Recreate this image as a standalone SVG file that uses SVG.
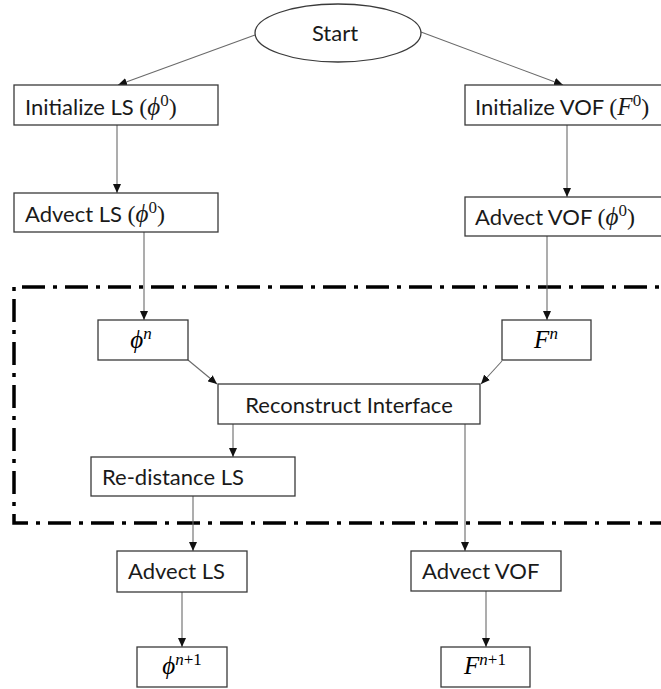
<svg xmlns="http://www.w3.org/2000/svg" width="661" height="689" viewBox="0 0 661 689">
<style>
.box{fill:#fff;stroke:#3a3a3a;stroke-width:1.3}
.t{font-family:Lato,"Open Sans","Liberation Sans",sans-serif;font-size:22px;fill:#1a1a1a}
.m{font-family:"Liberation Serif","DejaVu Serif",serif;font-size:24px}
.mi{font-family:"Liberation Serif","DejaVu Serif",serif;font-style:italic;font-size:25px}
.sup{font-family:"Liberation Serif","DejaVu Serif",serif;font-size:17px}
.supi{font-family:"Liberation Serif","DejaVu Serif",serif;font-style:italic;font-size:17px}
.c{fill:none;stroke:#6a6a6a;stroke-width:1.1;marker-end:url(#ah)}
.dd{fill:none;stroke:#000;stroke-width:3.5;stroke-dasharray:23 8 4 8}
</style>
<defs>
<marker id="ah" markerUnits="userSpaceOnUse" markerWidth="9" markerHeight="8" refX="9" refY="4" orient="auto">
<path d="M0,0 L9,4 L0,8 z" fill="#111"/>
</marker>
</defs>
<rect width="661" height="689" fill="#fff"/>

<path class="dd" d="M690,287 L14,287 L14,523 L690,523"/>

<g id="connectors">
<line class="c" x1="255" y1="35" x2="118" y2="85"/>
<line class="c" x1="421" y1="32" x2="563" y2="85"/>
<line class="c" x1="117" y1="125" x2="117" y2="193"/>
<line class="c" x1="567" y1="125" x2="567" y2="197"/>
<line class="c" x1="144" y1="232" x2="144" y2="320"/>
<line class="c" x1="547" y1="236" x2="547" y2="320"/>
<line class="c" x1="188" y1="360" x2="217" y2="384"/>
<line class="c" x1="502" y1="361" x2="481" y2="384"/>
<line class="c" x1="233" y1="424" x2="233" y2="457"/>
<line class="c" x1="465" y1="424" x2="465" y2="551"/>
<line class="c" x1="193" y1="496" x2="193" y2="551"/>
<line class="c" x1="182" y1="592" x2="182" y2="647"/>
<line class="c" x1="486" y1="591" x2="486" y2="647"/>
</g>

<g id="start">
<ellipse class="box" cx="338" cy="33" rx="83" ry="29"/>
<text class="t" x="335" y="41" text-anchor="middle">Start</text>
</g>

<g id="init-ls">
<rect class="box" x="14" y="85" width="204" height="40"/>
<text class="t" x="25" y="115">Initialize LS <tspan class="m">(</tspan><tspan class="mi">ϕ</tspan><tspan class="sup" dy="-9">0</tspan><tspan class="m" dy="9">)</tspan></text>
</g>

<g id="init-vof">
<rect class="box" x="465" y="85" width="200" height="40"/>
<text class="t" x="475" y="115">Initialize VOF <tspan class="m">(</tspan><tspan class="mi">F</tspan><tspan class="sup" dy="-9">0</tspan><tspan class="m" dy="9">)</tspan></text>
</g>

<g id="advect-ls-0">
<rect class="box" x="14" y="193" width="204" height="39"/>
<text class="t" x="25" y="222">Advect LS <tspan class="m">(</tspan><tspan class="mi">ϕ</tspan><tspan class="sup" dy="-9">0</tspan><tspan class="m" dy="9">)</tspan></text>
</g>

<g id="advect-vof-0">
<rect class="box" x="465" y="197" width="200" height="39"/>
<text class="t" x="475" y="225">Advect VOF <tspan class="m">(</tspan><tspan class="mi">ϕ</tspan><tspan class="sup" dy="-9">0</tspan><tspan class="m" dy="9">)</tspan></text>
</g>

<g id="phi-n">
<rect class="box" x="98" y="320" width="90" height="40"/>
<text x="141" y="348" text-anchor="middle"><tspan class="mi">ϕ</tspan><tspan class="supi" dy="-9">n</tspan></text>
</g>

<g id="f-n">
<rect class="box" x="502" y="320" width="89" height="40"/>
<text x="546" y="348" text-anchor="middle"><tspan class="mi">F</tspan><tspan class="supi" dy="-9">n</tspan></text>
</g>

<g id="reconstruct">
<rect class="box" x="218" y="384" width="262" height="40"/>
<text class="t" x="349" y="413" text-anchor="middle">Reconstruct Interface</text>
</g>

<g id="redistance">
<rect class="box" x="91" y="457" width="204" height="39"/>
<text class="t" x="102" y="485">Re-distance LS</text>
</g>

<g id="advect-ls">
<rect class="box" x="117" y="551" width="130" height="41"/>
<text class="t" x="128" y="579">Advect LS</text>
</g>

<g id="advect-vof">
<rect class="box" x="411" y="551" width="150" height="40"/>
<text class="t" x="422" y="579">Advect VOF</text>
</g>

<g id="phi-n1">
<rect class="box" x="137" y="647" width="90" height="40"/>
<text x="182" y="674" text-anchor="middle"><tspan class="mi">ϕ</tspan><tspan class="supi" dy="-9">n</tspan><tspan class="sup">+1</tspan></text>
</g>

<g id="f-n1">
<rect class="box" x="441" y="647" width="89" height="40"/>
<text x="485" y="674" text-anchor="middle"><tspan class="mi">F</tspan><tspan class="supi" dy="-9">n</tspan><tspan class="sup">+1</tspan></text>
</g>
</svg>
